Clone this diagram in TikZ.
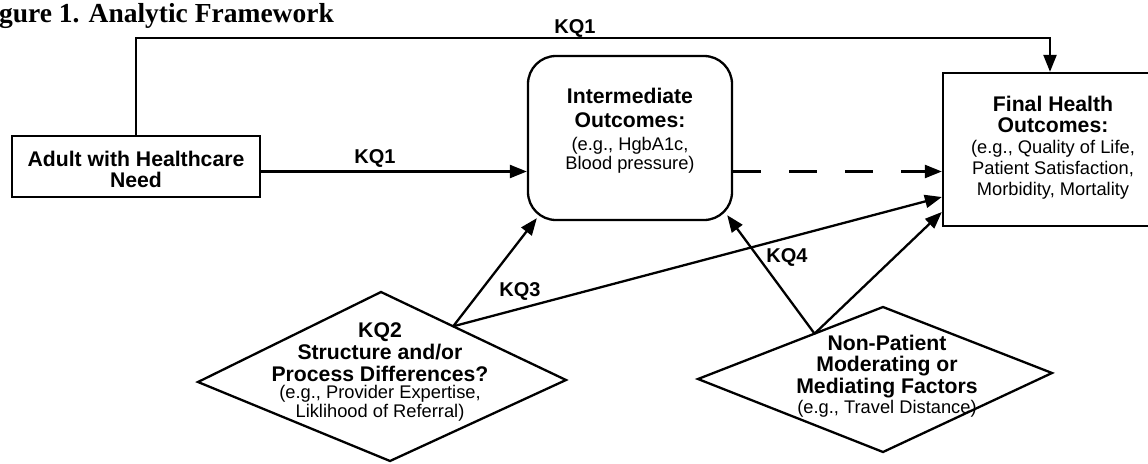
\documentclass[tikz,border=0pt]{standalone}
\usepackage{fontspec}
\setmainfont{Liberation Serif}
\setsansfont{Liberation Sans}
\usetikzlibrary{arrows.meta,calc}
\newcommand\rgtext{\mdseries\fontsize{18.3}{21}\selectfont}
\tikzset{
 boxnode/.style={draw, line width=2.3pt, inner sep=0pt},
 shapeline/.style={line width=2.3pt, line join=miter},
 arr/.style={line width=2.3pt, -{Triangle[length=17pt,width=13pt]}},
 dasharr/.style={arr, dash pattern=on 28pt off 28pt},
 bt/.style={font=\sffamily\bfseries\fontsize{21.2}{21}\selectfont, align=center, anchor=base, inner sep=0pt},
 kq/.style={font=\sffamily\bfseries\fontsize{20}{21}\selectfont, anchor=base, inner sep=0pt},
}
\begin{document}
\begin{tikzpicture}[x=1pt,y=-1pt]
\clip (0,0) rectangle (1148,463);
% title
\node[font=\rmfamily\bfseries\fontsize{27.5}{30}\selectfont, anchor=base east, inner sep=0pt] (title) at (334,23) {Figure 1. Analytic Framework};
% boxes
\node[boxnode, minimum width=248pt, minimum height=61pt] (adult) at (136,166.5) {};
\node[bt] (adulttxt) at (136,187) {Adult with Healthcare\\Need};
\node[boxnode, rounded corners=28pt, minimum width=204pt, minimum height=164pt] (inter) at (630,138) {};
\node[bt] (intertxt) at (630,169) {Intermediate\\[3pt]Outcomes:\\[2pt]{\rgtext (e.g., HgbA1c,}\\[-2pt]{\rgtext Blood pressure)}};
\node[boxnode, minimum width=220pt, minimum height=153pt] (final) at (1053,149.5) {};
\node[bt] (finaltxt) at (1053,195) {Final Health\\Outcomes:\\{\rgtext (e.g., Quality of Life,}\\{\rgtext Patient Satisfaction,}\\{\rgtext Morbidity, Mortality}};
% diamonds
\coordinate (d1l) at (198,382);
\coordinate (d1t) at (381,292);
\coordinate (d1r) at (566,380);
\coordinate (d1b) at (390,461);
\draw[shapeline] (d1l) -- (d1t) -- (d1r) -- (d1b) -- cycle;
\node[bt] (d1txt) at (380,417) {KQ2\\[1pt]Structure and/or\\[1pt]Process Differences?\\[-4pt]{\rgtext (e.g., Provider Expertise,}\\[-2pt]{\rgtext Liklihood of Referral)}};
\coordinate (d2l) at (698,379);
\coordinate (d2t) at (883,307);
\coordinate (d2r) at (1052,373);
\coordinate (d2b) at (883,452);
\draw[shapeline] (d2l) -- (d2t) -- (d2r) -- (d2b) -- cycle;
\node[bt] (d2txt) at (887,413) {Non-Patient\\Moderating or\\[1pt]Mediating Factors\\[-1pt]{\rgtext (e.g., Travel Distance)}};
% connectors
\coordinate (tl) at (136,38);
\coordinate (tr) at (1050,38);
\draw[arr] (adult.north) -- (tl) -- (tr) -- (tr |- final.north);
\node[kq] (kq1top) at (575,33) {KQ1};
\coordinate (a1) at ([yshift=-5pt]adult.east);
\draw[arr] (a1) -- (a1 -| inter.west);
\node[kq] (kq1mid) at (375,163) {KQ1};
\draw[dasharr] (a1 -| inter.east) -- (a1 -| final.west);
\coordinate (d1o) at ($(d1t)!0.39!(d1r)$);
\coordinate (d2o) at ($(d2t)!0.37!(d2l)$);
\draw[arr] (d1o) -- ([shift={(10,-3)}]inter.south west);
\draw[arr] (d1o) -- ([shift={(0,47.5)}]final.west);
\node[kq] (kq3) at (520,296) {KQ3};
\draw[arr] (d2o) -- ([shift={(-6,-6)}]inter.south east);
\draw[arr] (d2o) -- ([shift={(0,62.5)}]final.west);
\node[kq] (kq4) at (787,262) {KQ4};
\end{tikzpicture}
\end{document}
